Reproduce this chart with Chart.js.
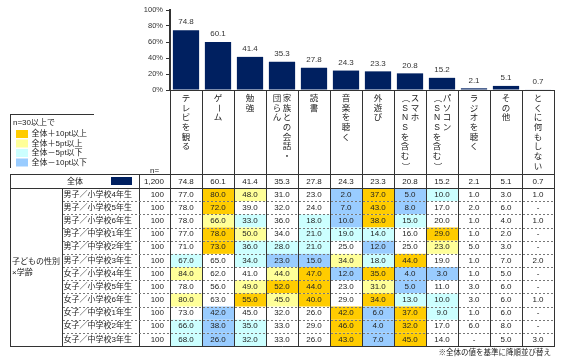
<!DOCTYPE html>
<html lang="ja">
<head>
<meta charset="utf-8">
<script src="https://cdn.jsdelivr.net/npm/chart.js@4.4.1/dist/chart.umd.min.js"></script>
<style>
  html, body { margin: 0; padding: 0; background: #fff; }
  #wrap { position: relative; width: 566px; height: 358px; }
</style>
</head>
<body>
<div id="wrap"><canvas id="activityChart"></canvas></div>
<script>
// 項目（縦書き：配列の要素ごとに1行、右から左へ）
const categories = [
  ['テレビを観る'], ['ゲーム'], ['勉強'], ['家族との会話・', '団らん'], ['読書'], ['音楽を聴く'],
  ['外遊び'], ['スマホ', '（SNSを含む）'], ['パソコン', '（SNSを含む）'], ['ラジオを聴く'], ['その他'], ['とくに何もしない']
];
const totalLabel = '全体';
const totalN = '1,200';
const totalValues = [74.8, 60.1, 41.4, 35.3, 27.8, 24.3, 23.3, 20.8, 15.2, 2.1, 5.1, 0.7];

const groupLabel = ['子どもの性別', '×学齢'];
const rowLabels = [
  '男子／小学校4年生', '男子／小学校5年生', '男子／小学校6年生',
  '男子／中学校1年生', '男子／中学校2年生', '男子／中学校3年生',
  '女子／小学校4年生', '女子／小学校5年生', '女子／小学校6年生',
  '女子／中学校1年生', '女子／中学校2年生', '女子／中学校3年生'
];
const rowN = [100, 100, 100, 100, 100, 100, 100, 100, 100, 100, 100, 100];
// null = 「-」
const rowValues = [
  [77.0, 80.0, 48.0, 31.0, 23.0,  2.0, 37.0,  5.0, 10.0, 1.0, 3.0, 1.0],
  [78.0, 72.0, 39.0, 32.0, 24.0,  7.0, 43.0,  8.0, 17.0, 2.0, 6.0, null],
  [78.0, 66.0, 33.0, 36.0, 18.0, 10.0, 38.0, 15.0, 20.0, 1.0, 4.0, 1.0],
  [77.0, 78.0, 50.0, 34.0, 21.0, 19.0, 14.0, 16.0, 29.0, 1.0, 2.0, null],
  [71.0, 73.0, 36.0, 28.0, 21.0, 25.0, 12.0, 25.0, 23.0, 5.0, 3.0, null],
  [67.0, 65.0, 34.0, 23.0, 15.0, 34.0, 18.0, 44.0, 19.0, 1.0, 7.0, 2.0],
  [84.0, 62.0, 41.0, 44.0, 47.0, 12.0, 35.0,  4.0,  3.0, 1.0, 5.0, null],
  [78.0, 56.0, 49.0, 52.0, 44.0, 23.0, 31.0,  5.0, 11.0, 3.0, 6.0, null],
  [80.0, 63.0, 55.0, 45.0, 40.0, 29.0, 34.0, 13.0, 10.0, 3.0, 6.0, 1.0],
  [73.0, 42.0, 45.0, 32.0, 26.0, 42.0,  6.0, 37.0,  9.0, 1.0, 6.0, null],
  [66.0, 38.0, 35.0, 33.0, 29.0, 46.0,  4.0, 32.0, 17.0, 6.0, 8.0, null],
  [68.0, 26.0, 32.0, 33.0, 26.0, 43.0,  7.0, 45.0, 14.0, null, 5.0, 3.0]
];

const legendTitle = 'n=30以上で';
const legendLabels = ['全体＋10pt以上', '全体＋5pt以上', '全体－5pt以下', '全体－10pt以下'];
const footnote = '※全体の値を基準に降順並び替え';

// 色
const barColor = '#002060';
const legendColors = ['#FFCC00', '#FFFF99', '#CCFFFF', '#99CCFF'];
const textColor = '#222';
const lineColor = '#333';
const FONT = '"Liberation Sans", "Noto Sans CJK JP", sans-serif';

function cellColor(v, base) {
  const d = (v == null ? 0 : v) - base;
  if (d >= 10) return legendColors[0];
  if (d >= 5) return legendColors[1];
  if (d <= -10) return legendColors[3];
  if (d <= -5) return legendColors[2];
  return null;
}

function line(ctx, x1, y1, x2, y2) {
  ctx.beginPath();
  ctx.moveTo(x1, y1);
  ctx.lineTo(x2, y2);
  ctx.stroke();
}

// 縦書き（ー・括弧は90度回転）
function drawVertical(ctx, text, x, y, step) {
  [...text].forEach((ch, k) => {
    const cy = y + k * step;
    if ('ー（）'.includes(ch)) {
      ctx.save();
      ctx.translate(x, cy);
      ctx.rotate(Math.PI / 2);
      ctx.fillText(ch, 0, 0);
      ctx.restore();
    } else {
      ctx.fillText(ch, x, cy);
    }
  });
}

const tablePlugin = {
  id: 'tablePlugin',
  afterDatasetsDraw(chart) {
    const ctx = chart.ctx;
    const xs = chart.scales.x;
    const area = chart.chartArea;
    const n = categories.length;
    const band = (xs.right - xs.left) / n;
    const colLeft = i => xs.getPixelForValue(i) - band / 2;
    const px = v => Math.round(v) + 0.5;

    const tableLeft = 10, groupRight = 62, labelRight = 139;
    const tableTop = 174, totalBottom = 188, tableBottom = 346;
    const rowH = (tableBottom - totalBottom) / rowLabels.length;
    const right = xs.right;

    ctx.save();

    // 棒の上の数値
    const meta = chart.getDatasetMeta(0);
    ctx.fillStyle = '#333';
    ctx.font = '8px ' + FONT;
    ctx.textAlign = 'center';
    ctx.textBaseline = 'middle';
    meta.data.forEach((bar, i) => {
      ctx.fillText(totalValues[i].toFixed(1), bar.x, bar.y - 8);
    });

    // 縦書き項目名
    ctx.fillStyle = textColor;
    ctx.font = '8.5px ' + FONT;
    categories.forEach((lines, i) => {
      const cx = xs.getPixelForValue(i);
      lines.forEach((txt, j) => {
        drawVertical(ctx, txt, cx + (lines.length - 1) * 5 - j * 10, 98.5, 9.7);
      });
    });

    // セル背景
    rowValues.forEach((vals, r) => {
      const top = totalBottom + r * rowH;
      vals.forEach((v, c) => {
        const col = cellColor(v, totalValues[c]);
        if (col) {
          ctx.fillStyle = col;
          ctx.fillRect(colLeft(c), top, band, rowH);
        }
      });
    });

    // 全体の色見本
    ctx.fillStyle = barColor;
    ctx.fillRect(111, 177, 21, 8);

    // 罫線
    ctx.strokeStyle = lineColor;
    ctx.lineWidth = 1;
    line(ctx, xs.left, px(area.bottom), right, px(area.bottom));
    line(ctx, tableLeft, px(tableTop), right, px(tableTop));
    line(ctx, tableLeft, px(totalBottom), right, px(totalBottom));
    line(ctx, tableLeft, px(tableBottom), right + 1, px(tableBottom));
    line(ctx, px(tableLeft), tableTop, px(tableLeft), tableBottom + 1);
    line(ctx, px(groupRight), totalBottom, px(groupRight), tableBottom);
    line(ctx, px(labelRight), tableTop, px(labelRight), tableBottom);
    line(ctx, px(xs.left), area.bottom, px(xs.left), tableBottom);
    for (let c = 1; c <= n; c++) {
      const x = px(colLeft(c - 1) + band);
      line(ctx, x, area.bottom, x, tableBottom);
    }
    ctx.strokeStyle = '#777';
    ctx.setLineDash([2, 2]);
    for (let r = 1; r < rowLabels.length; r++) {
      const y = px(totalBottom + r * rowH);
      line(ctx, groupRight + 1, y, right, y);
    }
    ctx.setLineDash([]);

    // 凡例ボックス
    ctx.strokeStyle = lineColor;
    line(ctx, 10, 114.5, 94, 114.5);
    line(ctx, 10.5, 114, 10.5, 168);
    ctx.fillStyle = textColor;
    ctx.font = '8px ' + FONT;
    ctx.textAlign = 'left';
    ctx.fillText(legendTitle, 13, 122.5);
    legendLabels.forEach((lab, i) => {
      const cy = 134 + i * 9.5;
      ctx.fillStyle = legendColors[i];
      ctx.fillRect(16, cy - 4, 12, 8);
      ctx.fillStyle = textColor;
      ctx.fillText(lab, 31.5, cy);
    });
    ctx.fillText('n=', 150, 171);

    // 表の文字
    const totalMid = (tableTop + totalBottom) / 2 + 0.5;
    ctx.textAlign = 'center';
    ctx.fillText(totalLabel, 75, totalMid);
    ctx.textAlign = 'right';
    ctx.fillText(totalN, 164, totalMid);
    ctx.textAlign = 'center';
    totalValues.forEach((v, c) => ctx.fillText(v.toFixed(1), xs.getPixelForValue(c), totalMid));

    rowLabels.forEach((lab, r) => {
      const cy = totalBottom + (r + 0.5) * rowH;
      ctx.textAlign = 'left';
      ctx.fillText(lab, 63.5, cy);
      ctx.textAlign = 'right';
      ctx.fillText(String(rowN[r]), 164, cy);
      ctx.textAlign = 'center';
      rowValues[r].forEach((v, c) => {
        ctx.fillText(v == null ? '-' : v.toFixed(1), xs.getPixelForValue(c), cy);
      });
    });

    ctx.textAlign = 'left';
    ctx.fillText(groupLabel[0], 12, 262);
    ctx.fillText(groupLabel[1], 12, 273);

    // 注記
    ctx.font = '7.5px ' + FONT;
    ctx.textAlign = 'right';
    ctx.fillText(footnote, 551, 352.5);

    ctx.restore();
  }
};

new Chart(document.getElementById('activityChart'), {
  type: 'bar',
  data: {
    labels: categories,
    datasets: [{
      data: totalValues,
      backgroundColor: barColor,
      barPercentage: 0.82,
      categoryPercentage: 1
    }]
  },
  options: {
    responsive: true,
    maintainAspectRatio: false,
    animation: false,
    events: [],
    layout: { padding: { left: 0, top: 10, right: 12, bottom: 268 } },
    plugins: {
      legend: { display: false },
      tooltip: { enabled: false }
    },
    scales: {
      x: { display: false },
      y: {
        min: 0,
        max: 100,
        afterFit: s => { s.width = 170; },
        ticks: {
          stepSize: 20,
          callback: v => v + '%',
          font: { family: FONT, size: 7.5 },
          color: '#333',
          padding: 3
        },
        grid: { drawOnChartArea: false, tickLength: 4, color: lineColor },
        border: { color: lineColor, width: 2 }
      }
    }
  },
  plugins: [tablePlugin]
});
</script>
</body>
</html>
